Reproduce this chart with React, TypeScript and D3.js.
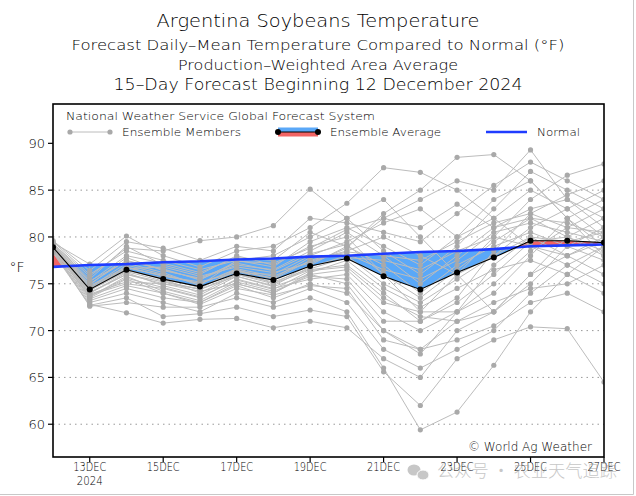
import React from "react";
import * as d3 from "d3";

const dates = [
  "2024-12-12","2024-12-13","2024-12-14","2024-12-15","2024-12-16","2024-12-17","2024-12-18","2024-12-19",
  "2024-12-20","2024-12-21","2024-12-22","2024-12-23","2024-12-24","2024-12-25","2024-12-26","2024-12-27",
];

const ensembleAverage = [78.9, 74.4, 76.5, 75.5, 74.7, 76.1, 75.4, 76.9, 77.7, 75.8, 74.4, 76.2, 77.8, 79.6, 79.6, 79.4];
const normal = [76.8, 77.0, 77.1, 77.3, 77.4, 77.6, 77.7, 77.9, 78.0, 78.2, 78.4, 78.5, 78.7, 79.0, 79.1, 79.2];

const members: number[][] = [
  [79.0, 74.0, 76.0, 75.0, 74.5, 76.5, 75.0, 77.0, 79.0, 82.0, 84.0, 86.0, 85.0, 89.3, 84.0, 82.0],
  [78.8, 73.5, 75.5, 74.0, 73.0, 75.0, 74.0, 76.0, 75.0, 70.0, 68.0, 71.0, 72.0, 76.0, 78.0, 80.0],
  [79.2, 75.0, 77.5, 76.5, 75.5, 77.0, 76.5, 78.5, 80.5, 78.0, 75.0, 78.0, 81.0, 82.0, 80.0, 78.0],
  [78.5, 73.0, 74.0, 73.0, 72.0, 74.0, 73.0, 74.5, 73.0, 68.0, 66.0, 68.0, 70.0, 74.0, 77.0, 79.0],
  [79.5, 76.0, 78.5, 77.5, 76.5, 77.5, 78.0, 80.0, 82.0, 84.0, 80.0, 76.0, 78.0, 81.0, 83.0, 85.0],
  [78.9, 74.5, 76.5, 75.5, 74.0, 76.0, 75.0, 76.5, 77.0, 74.0, 71.0, 73.0, 76.0, 79.5, 80.0, 78.5],
  [79.1, 74.2, 77.0, 76.0, 75.0, 76.5, 75.5, 77.5, 78.5, 80.0, 78.0, 76.0, 72.0, 75.0, 79.0, 81.0],
  [78.7, 73.8, 75.0, 74.5, 73.5, 75.5, 74.5, 75.5, 76.0, 72.0, 70.0, 72.0, 74.0, 78.0, 82.0, 84.0],
  [79.3, 75.5, 79.0, 77.0, 76.0, 78.0, 77.0, 79.0, 80.0, 76.0, 72.0, 76.0, 80.0, 84.0, 86.6, 87.8],
  [78.6, 72.6, 73.0, 72.5, 72.5, 73.5, 72.5, 73.5, 72.0, 66.0, 59.4, 61.3, 66.3, 72.0, 76.0, 79.0],
  [79.0, 74.8, 76.8, 75.8, 75.2, 76.2, 76.0, 78.0, 79.5, 81.5, 83.0, 80.0, 82.0, 85.0, 83.0, 80.0],
  [78.8, 74.0, 76.2, 74.8, 73.8, 75.8, 74.8, 76.8, 78.0, 75.0, 73.0, 75.5, 78.0, 80.0, 78.0, 76.0],
  [79.4, 77.1, 80.1, 78.0, 76.8, 78.5, 79.0, 81.0, 83.6, 87.4, 86.9, 85.0, 82.0, 79.0, 77.0, 75.0],
  [78.4, 72.8, 71.9, 70.8, 71.2, 71.3, 70.3, 71.0, 70.3, 67.0, 65.0, 70.0, 72.0, 76.0, 80.0, 82.0],
  [79.0, 74.6, 77.2, 76.2, 74.8, 77.5, 76.8, 79.5, 81.0, 79.0, 77.0, 80.0, 84.0, 86.0, 82.0, 78.0],
  [78.9, 74.3, 76.3, 75.3, 74.4, 75.8, 74.7, 76.0, 76.5, 73.0, 72.0, 72.0, 75.0, 78.5, 81.0, 83.0],
  [79.2, 75.2, 78.0, 77.2, 76.2, 77.8, 77.5, 80.5, 79.0, 77.0, 74.0, 77.0, 79.0, 80.5, 79.0, 77.5],
  [78.6, 73.2, 74.5, 73.5, 73.0, 74.8, 73.5, 75.0, 74.0, 70.0, 67.5, 72.0, 77.0, 80.0, 79.5, 80.5],
  [79.1, 74.7, 76.6, 76.8, 75.8, 76.8, 76.2, 77.2, 78.8, 82.5, 85.0, 88.5, 88.8, 86.0, 82.0, 79.0],
  [78.7, 73.6, 75.8, 74.2, 73.2, 75.2, 74.2, 75.8, 75.5, 71.0, 71.0, 73.5, 78.5, 82.5, 84.5, 86.0],
  [79.3, 75.8, 78.8, 78.5, 79.6, 80.0, 81.2, 85.1, 82.0, 78.5, 76.0, 79.0, 83.0, 87.0, 85.0, 83.0],
  [78.5, 73.4, 74.8, 74.0, 72.8, 74.5, 73.8, 74.8, 74.5, 69.0, 68.0, 69.0, 70.5, 73.0, 74.0, 72.0],
  [79.0, 74.4, 76.4, 75.6, 74.6, 76.4, 75.6, 77.8, 78.2, 76.5, 75.5, 77.5, 80.5, 81.5, 80.5, 79.5],
  [78.8, 73.9, 75.2, 75.0, 74.2, 75.0, 74.0, 76.2, 77.5, 74.5, 72.5, 74.5, 76.5, 77.5, 76.0, 74.0],
  [79.6, 76.4, 79.5, 78.8, 77.5, 79.0, 78.5, 82.0, 81.5, 80.5, 79.5, 82.5, 85.5, 88.0, 86.0, 84.0],
  [78.3, 72.7, 73.5, 71.5, 71.8, 72.5, 71.5, 72.2, 71.5, 65.6, 62.0, 67.0, 69.0, 70.4, 70.2, 64.5],
  [79.1, 74.9, 77.8, 76.4, 75.6, 77.2, 76.4, 78.2, 79.2, 76.0, 73.5, 76.5, 79.5, 82.0, 81.5, 80.0],
  [78.9, 74.1, 76.0, 75.2, 74.4, 76.0, 75.2, 76.6, 77.8, 77.5, 76.5, 78.5, 80.0, 79.0, 78.0, 79.5],
  [79.2, 75.3, 77.4, 76.6, 75.4, 77.4, 77.2, 78.8, 80.8, 82.0, 81.0, 83.5, 81.0, 83.0, 84.0, 81.0],
  [78.7, 73.7, 75.6, 74.6, 73.6, 75.4, 74.4, 76.4, 76.8, 73.5, 71.5, 71.0, 73.0, 74.5, 75.0, 77.0],
  [79.0, 74.5, 76.7, 75.9, 75.0, 76.6, 75.8, 77.4, 78.4, 78.0, 77.5, 79.5, 81.5, 82.5, 81.0, 80.5],
];

const xTickDates = ["2024-12-13","2024-12-15","2024-12-17","2024-12-19","2024-12-21","2024-12-23","2024-12-25","2024-12-27"];
const xTickLabels = ["13DEC","15DEC","17DEC","19DEC","21DEC","23DEC","25DEC","27DEC"];
const yTicks = [60, 65, 70, 75, 80, 85, 90];
const yGrid = [60, 65, 70, 75, 80, 85];

const titleLines = [
  "Argentina Soybeans Temperature",
  "Forecast Daily\u2013Mean Temperature Compared to Normal (\u00b0F)",
  "Production\u2013Weighted Area Average",
  "15\u2013Day Forecast Beginning 12 December 2024",
];

const W = 636, H = 496;
const L = 53, R = 604, T = 104, B = 457;
const FONT = "'DejaVu Sans', sans-serif";
const TW = 300;
const TC = "#000";

export default function App() {
  const parse = d3.utcParse("%Y-%m-%d");
  const dts = dates.map((d) => parse(d) as Date);
  const x = d3.scaleUtc().domain([dts[0], dts[dts.length - 1]]).range([L, R]);
  const y = d3.scaleLinear().domain([56.5, 94.2]).range([B, T]);

  const line = d3.line<number>().x((_, i) => x(dts[i])).y((v) => y(v));

  const bluePolys: string[] = [];
  const redPolys: string[] = [];
  for (let i = 0; i < dts.length - 1; i++) {
    const x0 = x(dts[i]), x1 = x(dts[i + 1]);
    const a0 = ensembleAverage[i], a1 = ensembleAverage[i + 1];
    const n0 = normal[i], n1 = normal[i + 1];
    const d0 = a0 - n0, d1 = a1 - n1;
    const poly = (pts: [number, number][]) => pts.map((p) => p.join(",")).join(" ");
    if (d0 * d1 >= 0) {
      const p = poly([[x0, y(a0)], [x1, y(a1)], [x1, y(n1)], [x0, y(n0)]]);
      if (d0 + d1 > 0) redPolys.push(p); else bluePolys.push(p);
    } else {
      const t = d0 / (d0 - d1);
      const xc = x0 + t * (x1 - x0);
      const vc = n0 + t * (n1 - n0);
      const pA = poly([[x0, y(a0)], [xc, y(vc)], [x0, y(n0)]]);
      const pB = poly([[xc, y(vc)], [x1, y(a1)], [x1, y(n1)]]);
      if (d0 > 0) { redPolys.push(pA); bluePolys.push(pB); } else { bluePolys.push(pA); redPolys.push(pB); }
    }
  }

  return (
    <svg width={W} height={H} style={{ position: "absolute", left: 0, top: 0, background: "#fff" }} fontFamily={FONT} fontWeight={TW}>
      <rect x={0} y={0} width={W} height={H} fill="#fff" />
      <line x1={633.5} y1={0} x2={633.5} y2={494.5} stroke="#c8c8c8" strokeWidth={1} />
      <line x1={0} y1={494.5} x2={633.5} y2={494.5} stroke="#c8c8c8" strokeWidth={1} />

      <text x={318} y={27} textAnchor="middle" fontSize={17} fill={TC} textLength={323} lengthAdjust="spacingAndGlyphs">{titleLines[0]}</text>
      <text x={318} y={50} textAnchor="middle" fontSize={14} fill={TC} textLength={493} lengthAdjust="spacingAndGlyphs">{titleLines[1]}</text>
      <text x={318} y={69.5} textAnchor="middle" fontSize={14} fill={TC} textLength={280} lengthAdjust="spacingAndGlyphs">{titleLines[2]}</text>
      <text x={318} y={89.5} textAnchor="middle" fontSize={15} fill={TC} textLength={409} lengthAdjust="spacingAndGlyphs">{titleLines[3]}</text>

      <defs>
        <clipPath id="plotClip">
          <rect x={L} y={T} width={R - L} height={B - T} />
        </clipPath>
      </defs>

      {yGrid.map((v) => (
        <line key={v} x1={L} x2={R} y1={y(v)} y2={y(v)} stroke="#999" strokeWidth={1} strokeDasharray="1.5,4" />
      ))}

      <g clipPath="url(#plotClip)">
        {bluePolys.map((p, i) => <polygon key={"b" + i} points={p} fill="#5aa8f8" stroke="none" />)}
        {redPolys.map((p, i) => <polygon key={"r" + i} points={p} fill="#f26464" stroke="none" />)}
        {members.map((m, k) => (
          <path key={"m" + k} d={line(m) || ""} fill="none" stroke="#bcbcbc" strokeWidth={1} />
        ))}
        {members.map((m, k) => (
          <g key={"md" + k}>
            {m.map((v, i) => <circle key={i} cx={x(dts[i])} cy={y(v)} r={2.6} fill="#a9a9a9" />)}
          </g>
        ))}
        <path d={line(normal) || ""} fill="none" stroke="#1f3cff" strokeWidth={2.6} />
        <path d={line(ensembleAverage) || ""} fill="none" stroke="#000" strokeWidth={1.1} />
        {ensembleAverage.map((v, i) => <circle key={"a" + i} cx={x(dts[i])} cy={y(v)} r={3} fill="#000" />)}
      </g>

      <rect x={L} y={T} width={R - L} height={B - T} fill="none" stroke="#000" strokeWidth={1.6} />

      {yTicks.map((v) => (
        <g key={"yt" + v}>
          <line x1={L - 5} x2={L} y1={y(v)} y2={y(v)} stroke="#000" strokeWidth={1.2} />
          <text x={L - 8} y={y(v) + 5} textAnchor="end" fontSize={13} fill={TC}>{v}</text>
        </g>
      ))}
      <text x={17} y={272} textAnchor="middle" fontSize={14} fill={TC}>°F</text>

      {xTickDates.map((d, i) => {
        const xx = x(parse(d) as Date);
        return (
          <g key={"xt" + d}>
            <line x1={xx} x2={xx} y1={B} y2={B + 5} stroke="#000" strokeWidth={1.2} />
            <text x={xx} y={471} textAnchor="middle" fontSize={12} fill={TC} textLength={33} lengthAdjust="spacingAndGlyphs">{xTickLabels[i]}</text>
          </g>
        );
      })}
      <text x={x(parse(xTickDates[0]) as Date)} y={485} textAnchor="middle" fontSize={12} fill={TC} textLength={26} lengthAdjust="spacingAndGlyphs">2024</text>

      <text x={66} y={120} fontSize={11} fill={TC} textLength={309} lengthAdjust="spacingAndGlyphs">National Weather Service Global Forecast System</text>
      <line x1={70} x2={110} y1={132} y2={132} stroke="#bcbcbc" strokeWidth={1} />
      <circle cx={70} cy={132} r={2.6} fill="#a9a9a9" />
      <circle cx={110} cy={132} r={2.6} fill="#a9a9a9" />
      <text x={122} y={136} fontSize={11} fill={TC} textLength={119} lengthAdjust="spacingAndGlyphs">Ensemble Members</text>

      <rect x={278} y={127.5} width={40} height={4.5} fill="#5aa8f8" />
      <rect x={278} y={132} width={40} height={4.5} fill="#f26464" />
      <line x1={278} x2={318} y1={132} y2={132} stroke="#000" strokeWidth={1} />
      <circle cx={278} cy={132} r={3} fill="#000" />
      <circle cx={318} cy={132} r={3} fill="#000" />
      <text x={330} y={136} fontSize={11} fill={TC} textLength={111} lengthAdjust="spacingAndGlyphs">Ensemble Average</text>

      <line x1={486} x2={527} y1={132} y2={132} stroke="#1f3cff" strokeWidth={2.6} />
      <text x={537} y={136} fontSize={11} fill={TC} textLength={43} lengthAdjust="spacingAndGlyphs">Normal</text>

      <text x={592} y={451} textAnchor="end" fontSize={11.5} fill={TC} textLength={124} lengthAdjust="spacingAndGlyphs">© World Ag Weather</text>

      <g opacity={0.55}>
        <ellipse cx={414} cy={470} rx={6.5} ry={5.5} fill="#9a9a9a" />
        <ellipse cx={423} cy={475} rx={6} ry={5} fill="#9a9a9a" stroke="#fff" strokeWidth={1} />
        <text x={437} y={477} fontSize={17} fill="#9a9a9a" fontFamily="'Noto Sans CJK SC', sans-serif" textLength={180} lengthAdjust="spacingAndGlyphs">公众号 · 农业天气追踪</text>
      </g>
    </svg>
  );
}
